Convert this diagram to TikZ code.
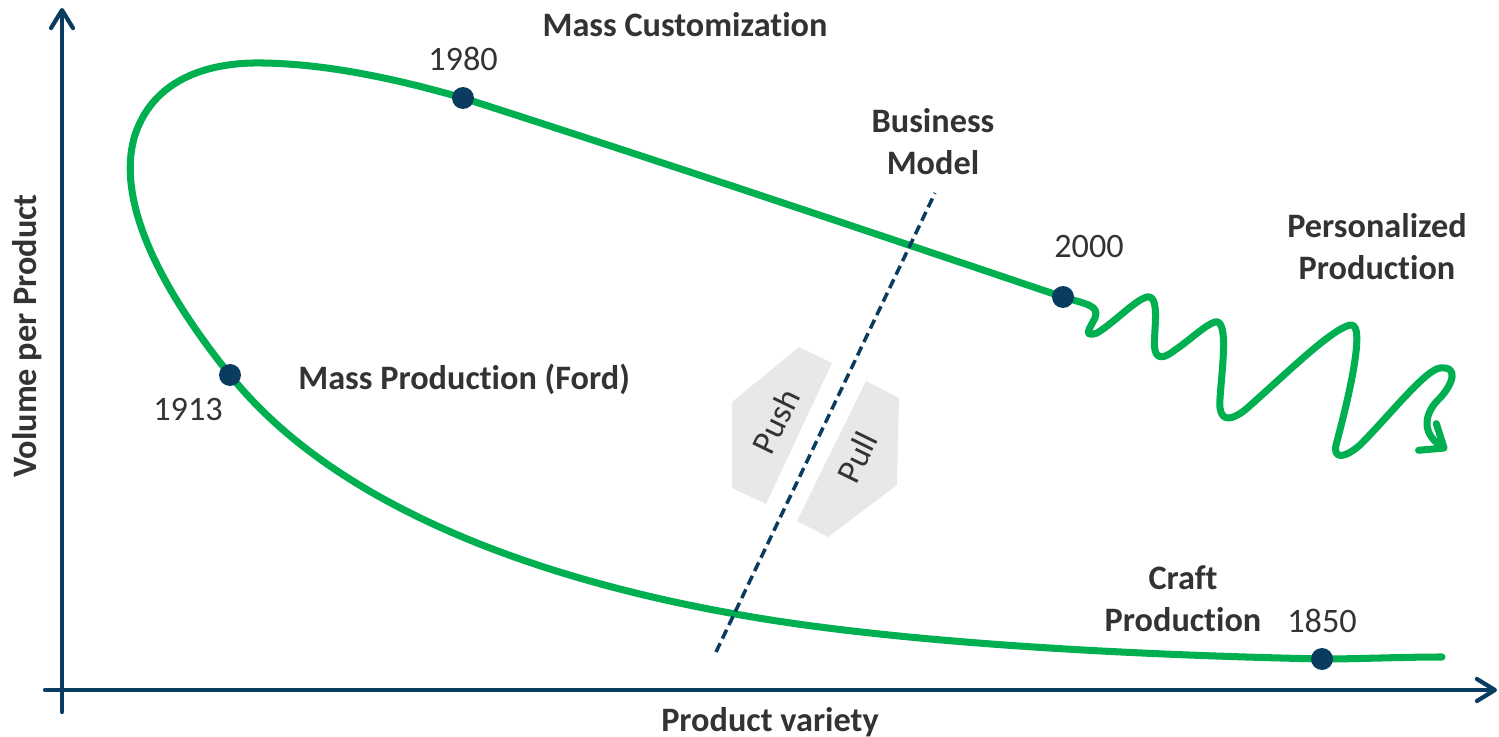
\documentclass[tikz,border=0pt]{standalone}
\usepackage{fontspec}
\setmainfont{Carlito}[Ligatures={NoCommon}]
\usetikzlibrary{arrows.meta}
\definecolor{curvegreen}{RGB}{0,176,80}
\definecolor{axisblue}{RGB}{10,60,95}
\definecolor{labelgray}{RGB}{51,51,51}
\definecolor{tilegray}{RGB}{232,232,232}
\tikzset{
	axisline/.style={line width=2.4pt, color=axisblue, line cap=round, -{Straight Barb[length=3.6mm, width=4.4mm, round]}},
	eraline/.style={line width=4pt, color=curvegreen, line cap=round, line join=round},
	eradot/.style={fill=axisblue},
	lbl/.style={text=labelgray, inner sep=0pt, font=\fontsize{19.5}{23.5}\selectfont},
	boldlbl/.style={lbl, align=center, font=\fontsize{19.5}{23.5}\selectfont\bfseries},
	tile/.style={fill=tilegray, draw=none}
}

\begin{document}
\begin{tikzpicture}[x=0.02cm, y=-0.02cm]
		%%%%% START %%%%%
		\useasboundingbox (0,0) rectangle (1499,737);
		
		% push / pull tiles
		\fill[tile] (799,347) -- (832,363) -- (766,504) -- (732,488) -- (732,402) -- cycle;
		\fill[tile] (866,381) -- (899,398) -- (897,485) -- (828,537) -- (797,521) -- cycle;
		\node[lbl, rotate=64] (push) at (776,421) {Push};
		\node[lbl, rotate=64] (pull) at (857,457) {Pull};
		
		% axes
		\coordinate (ytail) at (62,712);
		\coordinate (ytip) at (62,8);
		\coordinate (xtail) at (45,690);
		\coordinate (xtip) at (1497,690);
		\draw[axisline] (ytail) -- (ytip);
		\draw[axisline] (xtail) -- (xtip);
		
		% the loop
		\draw[eraline] (1442,657) .. controls (1400,657) and (1360,659) .. (1322,659)
			.. controls (1000,652) and (820,630) .. (730,613)
			.. controls (520,575) and (330,500) .. (230,375)
			.. controls (160,288) and (115,200) .. (135,135)
			.. controls (155,75) and (215,62) .. (263,63)
			.. controls (330,64) and (400,80) .. (463,98)
			.. controls (650,158) and (850,225) .. (1063,297);
		
		% the squiggle
		\draw[eraline, -{Straight Barb[length=4mm, width=6.4mm, round]}] (1063,297)
			.. controls (1085,304) and (1100,305) .. (1095,318)
			.. controls (1090,328) and (1082,338) .. (1097,333)
			.. controls (1115,322) and (1135,300) .. (1147,297)
			.. controls (1162,294) and (1152,340) .. (1155,350)
			.. controls (1157,360) and (1165,358) .. (1175,350)
			.. controls (1190,340) and (1205,325) .. (1215,322)
			.. controls (1232,317) and (1218,395) .. (1220,408)
			.. controls (1222,422) and (1232,420) .. (1245,410)
			.. controls (1285,375) and (1330,330) .. (1350,325)
			.. controls (1370,320) and (1340,430) .. (1336,445)
			.. controls (1333,460) and (1345,458) .. (1360,445)
			.. controls (1390,415) and (1425,370) .. (1440,368)
			.. controls (1460,366) and (1452,385) .. (1440,398)
			.. controls (1425,412) and (1420,432) .. (1447,450);
		
		% business model
		\coordinate (bmbot) at (716,652);
		\coordinate (bmtop) at (935,193);
		\draw[line width=2pt, color=axisblue, dash pattern=on 5.5pt off 3pt] (bmbot) -- (bmtop);
		
		% years
		\fill[eradot] (463,98) circle (2.2mm) coordinate (d1980);
		\fill[eradot] (1063,297) circle (2.2mm) coordinate (d2000);
		\fill[eradot] (230,375) circle (2.2mm) coordinate (d1913);
		\fill[eradot] (1322,659) circle (2.2mm) coordinate (d1850);
		
		\node[lbl, anchor=base] (t1980) at (463,71) {1980};
		\node[lbl, anchor=base] (t2000) at (1089,257) {2000};
		\node[lbl, anchor=base] (t1913) at (188,420) {1913};
		\node[lbl, anchor=base] (t1850) at (1322,632) {1850};
		
		% eras
		\node[boldlbl, anchor=base] (masscust) at (685,36) {Mass Customization};
		\node[boldlbl, anchor=base] (busmodel) at (933,174) {Business\\Model};
		\node[boldlbl, anchor=base] (perprod) at (1377,279) {Personalized\\Production};
		\node[boldlbl, anchor=base west] (massprod) at (298,389) {Mass Production (Ford)};
		\node[boldlbl, anchor=base] (craftprod) at (1183,631) {Craft\\Production};
		
		% axis titles
		\node[boldlbl, anchor=base] (xtitle) at (770,731) {Product variety};
		\node[boldlbl, anchor=base, rotate=90] (ytitle) at (36,336) {Volume per Product};
		
		%%%%% END %%%%%
	\end{tikzpicture}
\end{document}
